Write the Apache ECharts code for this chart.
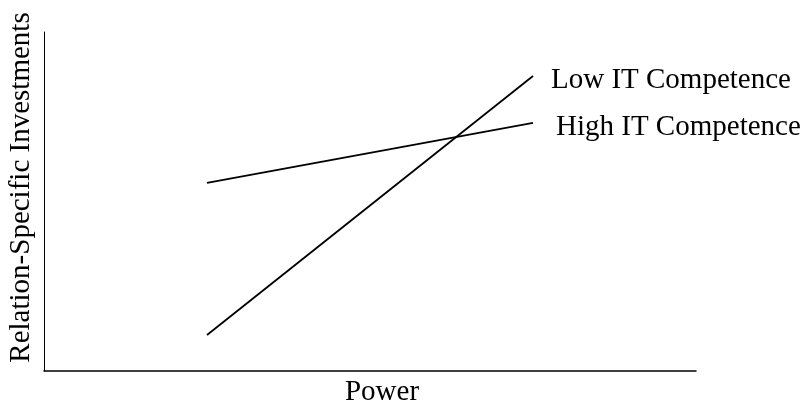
<!DOCTYPE html>
<html>
<head>
<meta charset="utf-8">
<script src="https://cdn.jsdelivr.net/npm/echarts@6/dist/echarts.min.js"></script>
<style>
html,body{margin:0;padding:0;background:#fff;}
#chart{width:805px;height:406px;}
</style>
</head>
<body>
<div id="chart"></div>
<script>
const powerLevels = [1, 3];
const lowIT = [1.06, 8.70];
const highIT = [5.55, 7.32];
const seriesNames = ['Low IT Competence', 'High IT Competence'];
const xAxisName = 'Power';
const yAxisName = 'Relation-Specific Investments';

const font = 'Liberation Serif, Times New Roman, serif';
const chart = echarts.init(document.getElementById('chart'));
function pairs(ys){ return powerLevels.map((x,i)=>[x, ys[i]]); }
chart.setOption({
  animation: false,
  backgroundColor: '#fff',
  grid: {left: 44, right: 109, top: 32, bottom: 35, containLabel: false, outerBoundsMode: 'none'},
  xAxis: {
    type: 'value', min: 0, max: 4,
    name: xAxisName, nameLocation: 'middle', nameGap: 7, nameMoveOverlap: false,
    nameTextStyle: {fontFamily: font, fontSize: 29, color: '#000', padding: [0,0,0,24]},
    axisLine: {show: true, lineStyle: {color: '#000', width: 1.5}},
    axisTick: {show: false}, axisLabel: {show: false}, splitLine: {show: false}
  },
  yAxis: {
    type: 'value', min: 0, max: 10,
    name: yAxisName, nameLocation: 'middle', nameGap: 8, nameMoveOverlap: false,
    nameTextStyle: {fontFamily: font, fontSize: 29, color: '#000', padding: [0,0,0,28]},
    axisLine: {show: true, lineStyle: {color: '#000', width: 1}},
    axisTick: {show: false}, axisLabel: {show: false}, splitLine: {show: false}
  },
  series: [
    {
      name: seriesNames[0], type: 'line', data: pairs(lowIT), symbol: 'none',
      lineStyle: {color: '#000', width: 1.8},
      endLabel: {show: true, formatter: '{a}', distance: 18, offset: [0, 4],
        fontFamily: font, fontSize: 29, color: '#000'}
    },
    {
      name: seriesNames[1], type: 'line', data: pairs(highIT), symbol: 'none',
      lineStyle: {color: '#000', width: 1.8},
      endLabel: {show: true, formatter: '{a}', distance: 23, offset: [0, 5],
        fontFamily: font, fontSize: 29, color: '#000'}
    }
  ]
});
</script>
</body>
</html>
